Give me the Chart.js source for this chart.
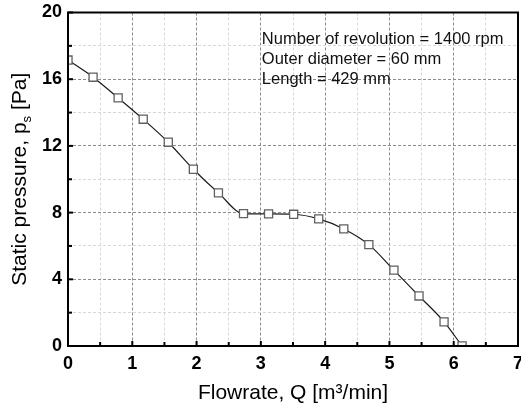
<!DOCTYPE html>
<html>
<head>
<meta charset="utf-8">
<script src="https://cdn.jsdelivr.net/npm/chart.js@4/dist/chart.umd.min.js"></script>
<style>
	html, body { margin: 0; padding: 0; background: #fff; }
	#wrap { width: 521px; height: 407px; }
</style>
</head>
<body>
<div id="wrap"><canvas id="chart" width="521" height="407"></canvas></div>
<script>
const flowrate = [0, 0.39, 0.78, 1.17, 1.56, 1.95, 2.34, 2.73, 3.12, 3.51, 3.9, 4.29, 4.68, 5.07, 5.46, 5.85, 6.13]
const pressure = [17.15, 16.12, 14.88, 13.6, 12.22, 10.6, 9.18, 7.94, 7.92, 7.9, 7.62, 7.02, 6.08, 4.55, 3.0, 1.45, 0]
const xMajorTicks = [0, 1, 2, 3, 4, 5, 6, 7]
const yMajorTicks = [0, 4, 8, 12, 16, 20]
const noteLines = ["Number of revolution = 1400 rpm", "Outer diameter = 60 mm", "Length = 429 mm"]

const FONT = "'Liberation Sans', Arial, sans-serif"

const isMajor = (list, v) => list.some(t => Math.abs(t - v) < 1e-6)

const framePlugin = {
	id: "frame",
	afterLayout(chart) {
		// stretch the plot to 3px from the right edge
		const x = chart.scales.x, a = chart.chartArea
		const target = chart.width - 3
		if (x.right < target) {
			x.right = target
			x.width = x.right - x.left
			x.configure()
			a.right = target
			a.width = a.right - a.left
		}
	},
	afterDatasetsDraw(chart) {
		const {ctx, chartArea: a, scales: {x, y}} = chart
		ctx.save()
		ctx.strokeStyle = "#000"
		// inward ticks
		ctx.lineWidth = 2
		x.ticks.forEach(t => {
			const px = x.getPixelForValue(t.value)
			const len = isMajor(xMajorTicks, t.value) ? 5 : 4
			ctx.beginPath()
			ctx.moveTo(px, a.bottom)
			ctx.lineTo(px, a.bottom - len)
			ctx.stroke()
		})
		y.ticks.forEach(t => {
			const py = y.getPixelForValue(t.value)
			const len = isMajor(yMajorTicks, t.value) ? 5 : 4
			ctx.beginPath()
			ctx.moveTo(a.left, py)
			ctx.lineTo(a.left + len, py)
			ctx.stroke()
		})
		ctx.strokeRect(a.left, a.top, a.right - a.left, a.bottom - a.top)

		// x tick labels (drawn here so they add no side padding)
		ctx.fillStyle = "#000"
		ctx.font = "bold 18px " + FONT
		ctx.textAlign = "center"
		ctx.textBaseline = "middle"
		xMajorTicks.forEach(v => ctx.fillText(String(v), x.getPixelForValue(v), a.bottom + 18))

		// annotation
		ctx.fillStyle = "#111"
		ctx.font = "16.5px " + FONT
		ctx.textAlign = "left"
		const noteY = [18.4, 17.18, 15.96]
		noteLines.forEach((line, i) => {
			ctx.fillText(line, x.getPixelForValue(3) + 1, y.getPixelForValue(noteY[i]))
		})

		// y title with subscript
		const cy = (a.top + a.bottom) / 2
		ctx.translate(26, cy)
		ctx.rotate(-Math.PI / 2)
		ctx.textBaseline = "alphabetic"
		ctx.fillStyle = "#000"
		const big = "21px " + FONT, small = "13px " + FONT
		const parts = [["Static pressure, p", big, 0], ["s", small, 5], [" [Pa]", big, 0]]
		let total = 0
		parts.forEach(p => { ctx.font = p[1]; total += ctx.measureText(p[0]).width })
		let cx = -total / 2
		parts.forEach(p => {
			ctx.font = p[1]
			ctx.fillText(p[0], cx, p[2])
			cx += ctx.measureText(p[0]).width
		})
		ctx.restore()
	}
}

new Chart(document.getElementById("chart"), {
	type: "scatter",
	data: {
		datasets: [{
			data: flowrate.map((q, i) => ({x: q, y: pressure[i]})),
			showLine: true,
			cubicInterpolationMode: "monotone",
			borderColor: "#1a1a1a",
			borderWidth: 1.2,
			pointStyle: "rect",
			pointRadius: 5.7,
			pointHoverRadius: 5.7,
			pointBorderWidth: 1.3,
			pointBorderColor: "#606060",
			pointBackgroundColor: "#fff",
			clip: 0
		}]
	},
	options: {
		responsive: false,
		animation: false,
		events: [],
		layout: {padding: {left: 38, right: 3, top: 12.5, bottom: 0}},
		plugins: {legend: {display: false}, tooltip: {enabled: false}},
		scales: {
			x: {
				type: "linear",
				min: 0,
				max: 7,
				afterFit: s => { s.height = 61 },
				ticks: {stepSize: 0.5, autoSkip: false, display: false},
				grid: {
					drawTicks: false,
					color: c => c.tick && isMajor(xMajorTicks, c.tick.value) ? "#8c8c8c" : "#d8d8d8",
					lineWidth: 1
				},
				border: {display: false, dash: [3, 2]},
				title: {
					display: true,
					text: "Flowrate, Q [m³/min]",
					color: "#000",
					font: {family: FONT, size: 21},
					padding: {top: 0, bottom: 1}
				}
			},
			y: {
				type: "linear",
				min: 0,
				max: 20,
				afterFit: s => { s.width = 30; s.paddingTop = 0; s.paddingBottom = 0 },
				ticks: {
					stepSize: 2,
					autoSkip: false,
					padding: 6,
					color: "#000",
					font: {family: FONT, size: 18, weight: "bold"},
					callback: v => isMajor(yMajorTicks, v) ? String(v) : ""
				},
				grid: {
					drawTicks: false,
					color: c => c.tick && isMajor(yMajorTicks, c.tick.value) ? "#8c8c8c" : "#d8d8d8",
					lineWidth: 1
				},
				border: {display: false, dash: [3, 2]}
			}
		}
	},
	plugins: [framePlugin]
})
</script>
</body>
</html>
